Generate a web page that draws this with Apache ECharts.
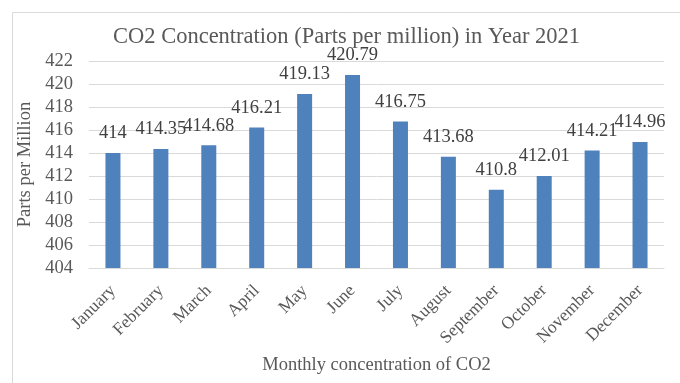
<!DOCTYPE html>
<html>
<head>
<meta charset="utf-8">
<script src="https://cdn.jsdelivr.net/npm/echarts@6/dist/echarts.min.js"></script>
<style>
html,body{margin:0;padding:0;background:#fff;}
#main{width:680px;height:383px;}
</style>
</head>
<body>
<div id="main"></div>
<script>
var months = ['January','February','March','April','May','June','July','August','September','October','November','December'];
var co2Values = [414, 414.35, 414.68, 416.21, 419.13, 420.79, 416.75, 413.68, 410.8, 412.01, 414.21, 414.96];
var yMin = 404, yMax = 422, yStep = 2;

var font = 'Liberation Serif, Times New Roman, serif';
var chart = echarts.init(document.getElementById('main'), null, {renderer: 'canvas'});
chart.setOption({
  animation: false,
  backgroundColor: '#ffffff',
  title: {
    text: 'CO2 Concentration (Parts per million) in Year 2021',
    left: 108,
    top: 21,
    textStyle: {fontFamily: font, fontSize: 22.5, fontWeight: 'normal', color: '#595959'}
  },
  graphic: [
    {type: 'line', shape: {x1: 12.5, y1: 12.5, x2: 680, y2: 12.5}, style: {stroke: '#D9D9D9', lineWidth: 1}},
    {type: 'line', shape: {x1: 12.5, y1: 12.5, x2: 12.5, y2: 383}, style: {stroke: '#D9D9D9', lineWidth: 1}}
  ],
  grid: {left: 89, right: 16, top: 61, bottom: 115},
  xAxis: {
    type: 'category',
    data: months,
    name: 'Monthly concentration of CO2',
    nameLocation: 'middle',
    nameGap: 88,
    nameTextStyle: {fontFamily: font, fontSize: 18.5, color: '#595959'},
    axisLine: {lineStyle: {color: '#D9D9D9', width: 1}},
    axisTick: {show: false},
    axisLabel: {rotate: 45, fontFamily: font, fontSize: 17.5, color: '#595959', margin: 20, interval: 0}
  },
  yAxis: {
    type: 'value',
    min: yMin, max: yMax, interval: yStep,
    name: 'Parts per Million',
    nameLocation: 'middle',
    nameGap: 46,
    nameTextStyle: {fontFamily: font, fontSize: 18.5, color: '#595959'},
    axisLine: {show: false},
    axisTick: {show: false},
    axisLabel: {fontFamily: font, fontSize: 18.5, color: '#595959', margin: 16},
    splitLine: {lineStyle: {color: '#D9D9D9', width: 1}}
  },
  series: [{
    type: 'bar',
    data: co2Values,
    barWidth: 15,
    itemStyle: {color: '#4F81BD'},
    label: {show: true, position: 'top', distance: 10, fontFamily: font, fontSize: 18.5, color: '#404040'}
  }]
});
</script>
</body>
</html>
